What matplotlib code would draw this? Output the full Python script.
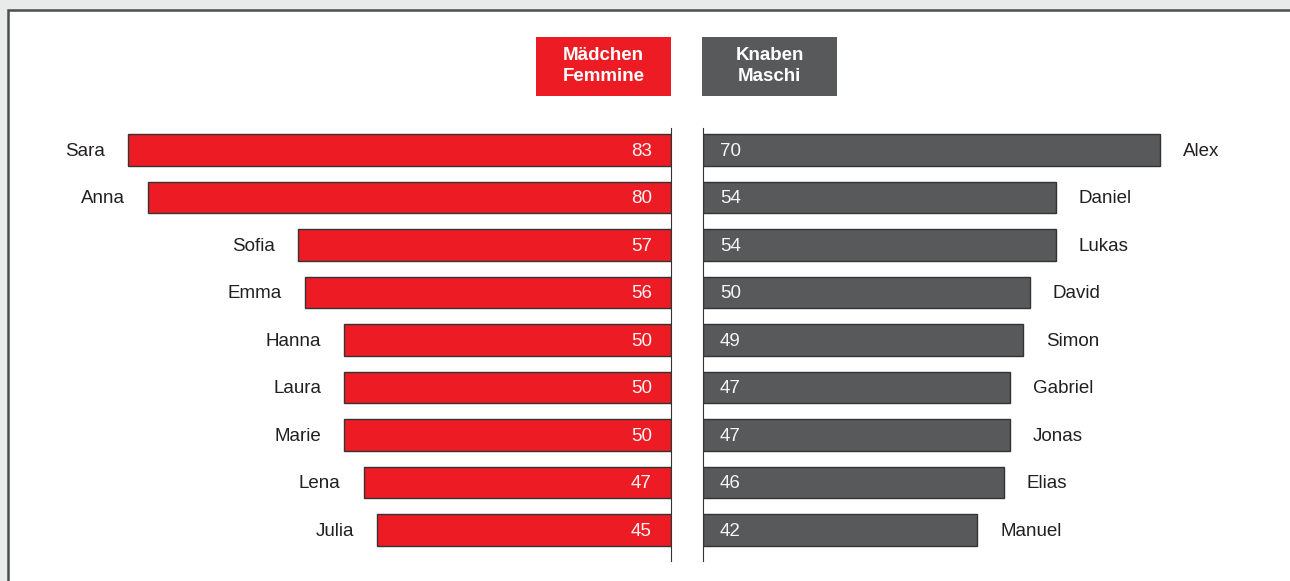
import numpy as np
import matplotlib.pyplot as plt
from matplotlib.patches import Rectangle

plt.rcParams['font.family'] = ['Liberation Sans', 'DejaVu Sans']

# data
girls = ['Sara', 'Anna', 'Sofia', 'Emma', 'Hanna', 'Laura', 'Marie', 'Lena', 'Julia']
girls_n = [83, 80, 57, 56, 50, 50, 50, 47, 45]
boys = ['Alex', 'Daniel', 'Lukas', 'David', 'Simon', 'Gabriel', 'Jonas', 'Elias', 'Manuel']
boys_n = [70, 54, 54, 50, 49, 47, 47, 46, 42]
legend_girls = 'Mädchen\nFemmine'
legend_boys = 'Knaben\nMaschi'

RED = '#ed1c24'
GREY = '#58595b'
TXT = '#231f20'

fig = plt.figure(figsize=(12.9, 5.81), dpi=100)
fig.patch.set_facecolor('#e9eaea')

# white panel with dark border (behind the axes)
fig.patches.append(Rectangle((8/1290, -0.02), 1.0, 1 - 9.5/581 + 0.02,
                             transform=fig.transFigure, facecolor='white',
                             edgecolor='#4d4d4d', linewidth=1.8, zorder=-5))

y = np.arange(len(girls))
bot = 1 - 561/581
hgt = 433/581

axL = fig.add_axes([17/1290, bot, 654/1290, hgt])
axR = fig.add_axes([703/1290, bot, 588/1290, hgt])

for ax in (axL, axR):
    ax.set_facecolor('none')
    ax.patch.set_alpha(0)
    ax.set_ylim(8.653, -0.463)
    ax.set_xticks([])
    ax.set_yticks([])
    for s in ax.spines.values():
        s.set_visible(False)

axL.set_xlim(100, 0)
axR.set_xlim(0, 90)
axL.spines['right'].set_visible(True)
axL.spines['right'].set_color('#333333')
axR.spines['left'].set_visible(True)
axR.spines['left'].set_color('#333333')

axL.barh(y, girls_n, height=0.67, color=RED, edgecolor='#333333', linewidth=1)
axR.barh(y, boys_n, height=0.67, color=GREY, edgecolor='#333333', linewidth=1)

fs = 13.5
for i in range(len(girls)):
    axL.annotate(girls[i], (girls_n[i], y[i]), xytext=(-16.5, -1), textcoords='offset points',
                 ha='right', va='center', fontsize=fs, color=TXT)
    axL.annotate(str(girls_n[i]), (0, y[i]), xytext=(-13.7, -1), textcoords='offset points',
                 ha='right', va='center', fontsize=fs, color='#f5f5f5')
    axR.annotate(boys[i], (boys_n[i], y[i]), xytext=(16.5, -1), textcoords='offset points',
                 ha='left', va='center', fontsize=fs, color=TXT)
    axR.annotate(str(boys_n[i]), (0, y[i]), xytext=(12.2, -1), textcoords='offset points',
                 ha='left', va='center', fontsize=fs, color='#f5f5f5')

# legend boxes
for x0, col, lab in [(536, RED, legend_girls), (702, GREY, legend_boys)]:
    fig.patches.append(Rectangle((x0/1290, 1 - 96/581), 135/1290, 59/581,
                                 transform=fig.transFigure, facecolor=col,
                                 edgecolor='none', zorder=1))
    fig.text((x0 + 67.5)/1290, 1 - 66/581, lab, ha='center', va='center',
             fontsize=13.5, fontweight='bold', color='white', linespacing=1.35)

plt.savefig('out.png', dpi=100)
